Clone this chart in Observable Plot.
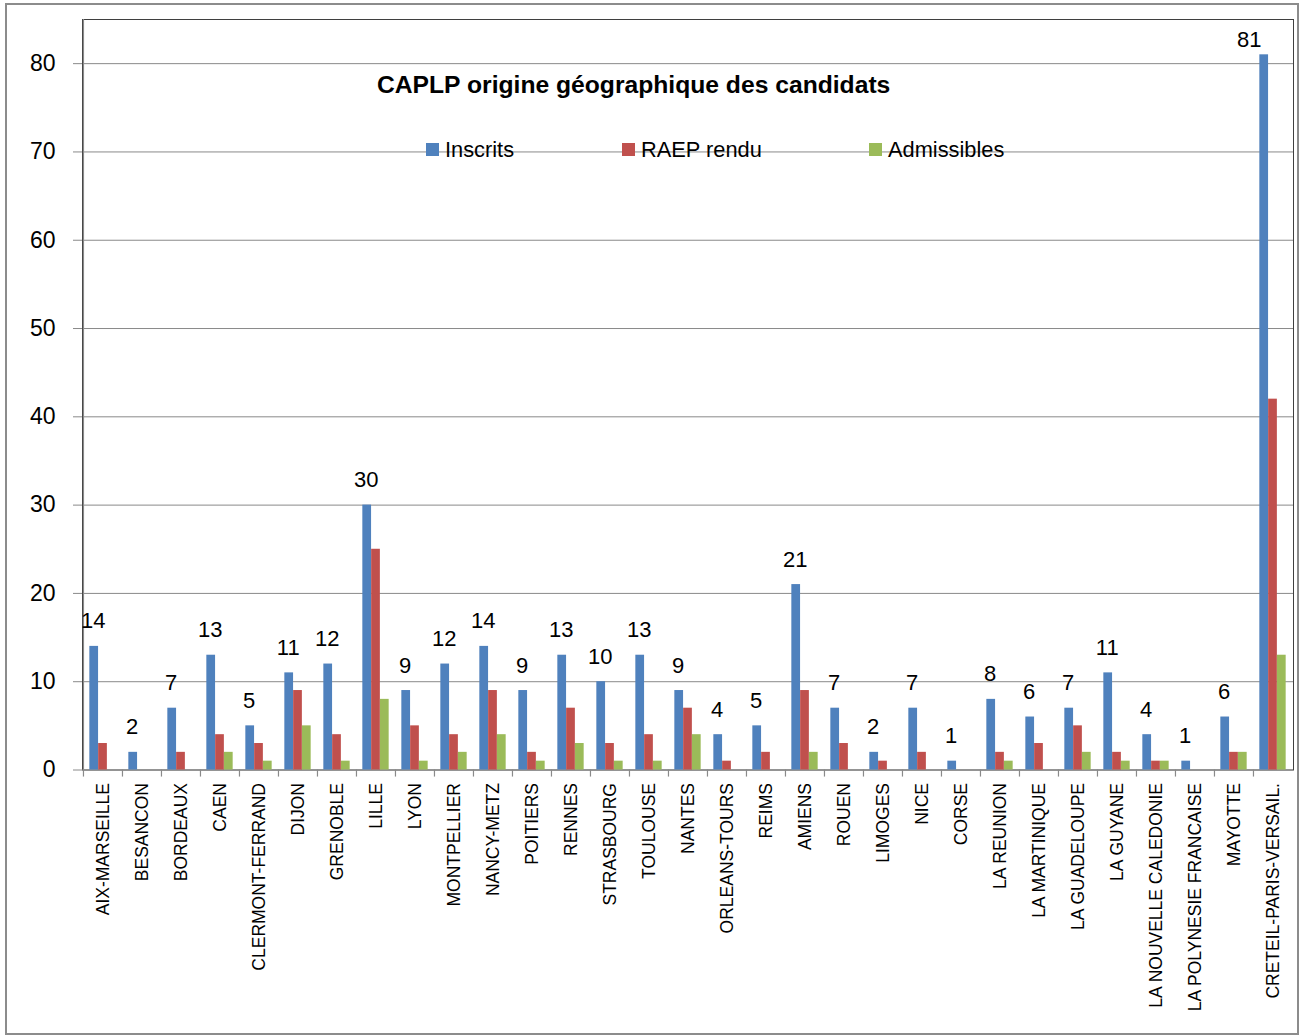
<!DOCTYPE html>
<html>
<head>
<meta charset="utf-8">
<script src="https://cdn.jsdelivr.net/npm/d3@7"></script>
<script src="https://cdn.jsdelivr.net/npm/@observablehq/plot@0.6"></script>
<style>
  body { margin: 0; background: #fff; }
  #wrap { position: relative; width: 1300px; height: 1036px; overflow: hidden; font-family: "Liberation Sans", Arial, sans-serif; background: #fff; }
  #border { position: absolute; left: 5px; top: 3px; width: 1294px; height: 1032px; border: 2px solid #8c8c8c; box-sizing: border-box; pointer-events: none; }
  #chart { position: absolute; left: 0; top: 0; }
  #title { position: absolute; left: 377px; top: 73px; font-weight: bold; color: #000; white-space: nowrap; line-height: 1; }
  .leg { position: absolute; top: 139px; font-size: 21.8px; color: #000; white-space: nowrap; line-height: 1; display: flex; align-items: center; }
  .leg .sw { display: inline-block; width: 13px; height: 13px; margin-right: 6px; }
</style>
</head>
<body>
<div id="wrap">
  <div id="chart"></div>
  <div id="title">CAPLP origine géographique des candidats</div>
  <div id="legend"></div>
  <div id="border"></div>
</div>
<script>
const categories = ["AIX-MARSEILLE","BESANCON","BORDEAUX","CAEN","CLERMONT-FERRAND","DIJON","GRENOBLE","LILLE","LYON","MONTPELLIER","NANCY-METZ","POITIERS","RENNES","STRASBOURG","TOULOUSE","NANTES","ORLEANS-TOURS","REIMS","AMIENS","ROUEN","LIMOGES","NICE","CORSE","LA REUNION","LA MARTINIQUE","LA GUADELOUPE","LA GUYANE","LA NOUVELLE CALEDONIE","LA POLYNESIE FRANCAISE","MAYOTTE","CRETEIL-PARIS-VERSAIL."];
const inscrits    = [14, 2, 7, 13, 5, 11, 12, 30, 9, 12, 14, 9, 13, 10, 13, 9, 4, 5, 21, 7, 2, 7, 1, 8, 6, 7, 11, 4, 1, 6, 81];
const raepRendu   = [ 3, 0, 2,  4, 3,  9,  4, 25, 5,  4,  9, 2,  7,  3,  4, 7, 1, 2,  9, 3, 1, 2, 0, 2, 3, 5,  2, 1, 0, 2, 42];
const admissibles = [ 0, 0, 0,  2, 1,  5,  1,  8, 1,  2,  4, 1,  3,  1,  1, 4, 0, 0,  2, 0, 0, 0, 0, 1, 0, 2,  1, 1, 0, 2, 13];
const seriesNames = ["Inscrits", "RAEP rendu", "Admissibles"];
const seriesColors = ["#4F81BD", "#C0504D", "#9BBB59"];
const yTicks = [0, 10, 20, 30, 40, 50, 60, 70, 80];

const seriesValues = [inscrits, raepRendu, admissibles];
const rows = [];
seriesNames.forEach((s, si) => categories.forEach((c, ci) => rows.push({cat: c, serie: s, value: seriesValues[si][ci]})));

const W = 1300, H = 1036, mL = 82, mR = 7, mT = 19, mB = 266.5;
const bw = (W - mL - mR) / categories.length;
const barW = 8.8;
const lead = (bw - 3 * barW) / 2;
const gray = "#8a8a8a";

const barMarks = seriesNames.map((s, i) => Plot.barY(rows.filter(r => r.serie === s), {
  x: "cat", y: "value", fill: "serie",
  insetLeft: lead + i * barW,
  insetRight: bw - (lead + (i + 1) * barW)
}));

const inscritsRows = rows.filter(r => r.serie === "Inscrits");
const maxInscrits = d3.max(inscrits);

const chart = Plot.plot({
  width: W, height: H,
  marginLeft: mL, marginRight: mR, marginTop: mT, marginBottom: mB,
  style: {fontFamily: "'Liberation Sans', Arial, sans-serif", background: "transparent", color: "#000"},
  x: {domain: categories, padding: 0, axis: null},
  y: {domain: [0, 85], axis: null},
  color: {domain: seriesNames, range: seriesColors},
  marks: [
    Plot.gridY(yTicks.slice(1), {stroke: gray, strokeOpacity: 1, strokeWidth: 1}),
    Plot.frame({stroke: "#3f3f3f", strokeWidth: 1}),
    Plot.ruleY([0], {stroke: gray, strokeWidth: 1.2}),
    Plot.ruleX([categories[0]], {dx: -bw / 2, stroke: gray, strokeWidth: 1.2}),
    Plot.axisY({ticks: yTicks, tickSize: 9, tickPadding: 18, fontSize: 23, stroke: gray, label: null, tickFormat: d => String(d)}),
    Plot.axisX({tickSize: 0, tickPadding: 13, tickRotate: -90, fontSize: 17.5, label: null}),
    Plot.ruleX(categories, {x: d => d, y1: 0, y2: -0.8, dx: -bw / 2, stroke: gray, strokeWidth: 1.2}),
    ...barMarks,
    Plot.text(inscritsRows.filter(d => d.value < maxInscrits), {
      x: "cat", y: "value", text: d => String(d.value),
      dx: lead + barW / 2 - bw / 2 - 1, dy: -25, fontSize: 22, fill: "#000"
    }),
    // the tallest label sits pushed down against the top of the plot, as in the reference
    Plot.text(inscritsRows.filter(d => d.value === maxInscrits), {
      x: "cat", y: "value", text: d => String(d.value),
      dx: lead + barW / 2 - bw / 2 - 15, dy: -15, fontSize: 22, fill: "#000"
    })
  ]
});
document.getElementById("chart").appendChild(chart);

// Title: fit to reference width
const title = document.getElementById("title");
const ctx = document.createElement("canvas").getContext("2d");
function fitSize(text, weight, family, target) {
  ctx.font = `${weight} 100px ${family}`;
  const w = ctx.measureText(text).width;
  return 100 * target / w;
}
title.style.fontSize = fitSize(title.textContent, "bold", "'Liberation Sans'", 514) + "px";

// Legend
const legendX = [426, 622, 869];
const legend = document.getElementById("legend");
seriesNames.forEach((s, i) => {
  const d = document.createElement("div");
  d.className = "leg";
  d.style.left = legendX[i] + "px";
  d.innerHTML = `<span class="sw" style="background:${seriesColors[i]}"></span><span>${s}</span>`;
  legend.appendChild(d);
});
</script>
</body>
</html>
